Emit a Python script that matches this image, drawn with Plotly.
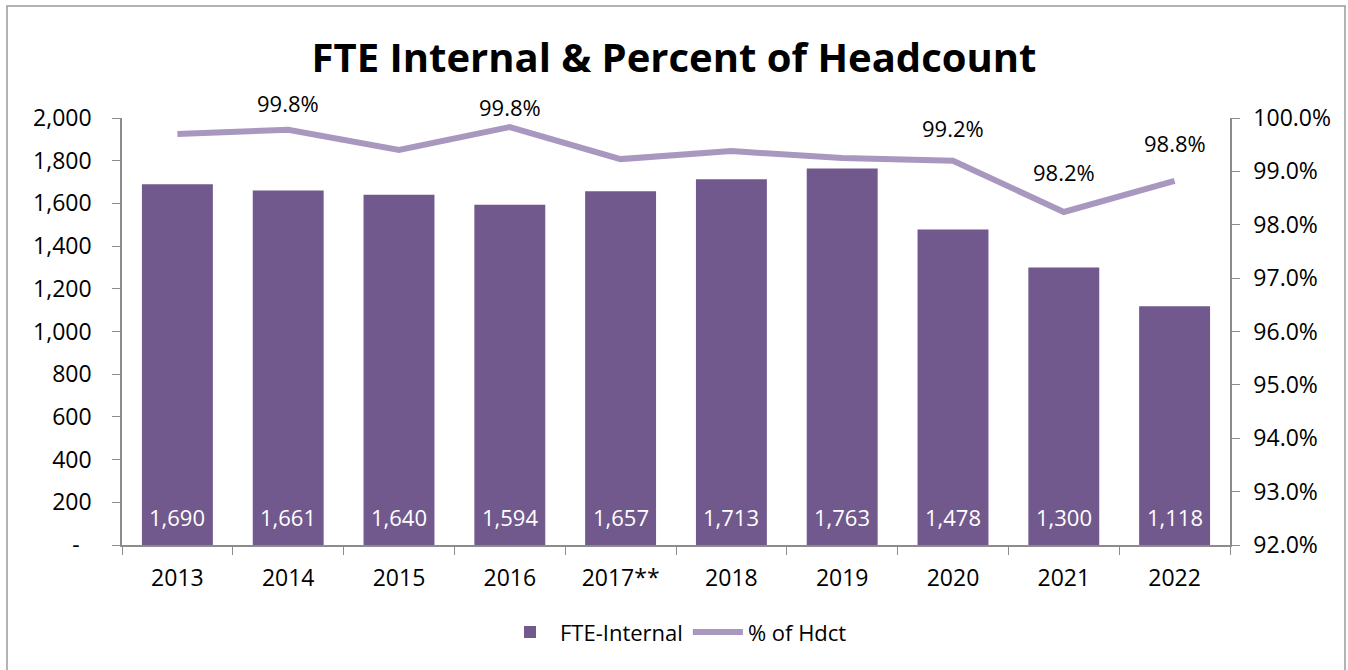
import plotly.graph_objects as go

years = ["2013", "2014", "2015", "2016", "2017**", "2018", "2019", "2020", "2021", "2022"]
fte_internal = [1690, 1661, 1640, 1594, 1657, 1713, 1763, 1478, 1300, 1118]
pct_hdct = [99.70, 99.78, 99.40, 99.83, 99.23, 99.38, 99.25, 99.20, 98.24, 98.82]
pct_labels = ["", "99.8%", "", "99.8%", "", "", "", "99.2%", "98.2%", "98.8%"]
label_shift = [0, 27, 0, 20, 0, 0, 0, 33, 40, 38]

left_tickvals = [0, 200, 400, 600, 800, 1000, 1200, 1400, 1600, 1800, 2000]
left_ticktext = ["-\u00a0\u00a0", "200", "400", "600", "800", "1,000", "1,200", "1,400", "1,600", "1,800", "2,000"]
right_tickvals = [92, 93, 94, 95, 96, 97, 98, 99, 100]
right_ticktext = [f"{v:.1f}%" for v in right_tickvals]

BAR = "#71598D"
LINE = "#A898BF"
FONT = "Open Sans"
AX = "#8C8C8C"

W, H = 1348, 670
L, R, T, B = 122, 118, 118, 125

fig = go.Figure()
fig.add_trace(go.Bar(
    x=years, y=fte_internal, name="FTE-Internal",
    marker=dict(color=BAR, line=dict(width=0)),
))
fig.add_trace(go.Scatter(
    x=years, y=pct_hdct, name="% of Hdct", yaxis="y2",
    mode="lines", line=dict(color=LINE, width=6),
))

# bar value labels, near the base of each bar
for i, v in enumerate(fte_internal):
    fig.add_annotation(x=i, y=0, xref="x", yref="y", text=f"{v:,}", showarrow=False,
                       yanchor="middle", yshift=28,
                       font=dict(size=22, color="white", family=FONT))

# line value labels
for i, (y, t, s) in enumerate(zip(pct_hdct, pct_labels, label_shift)):
    if t:
        fig.add_annotation(x=i, y=y, xref="x", yref="y2", text=t, showarrow=False,
                           yshift=s, font=dict(size=22, color="black", family=FONT))

pw = W - L - R
ph = H - T - B
fig.add_shape(type="rect", xref="paper", yref="paper",
              x0=(7 - L) / pw, x1=(1345 - L) / pw,
              y0=(H - B - 675) / ph, y1=(H - B - 6) / ph,
              line=dict(color="#9A9A9A", width=1.5))

fig.update_layout(
    width=W, height=H,
    margin=dict(l=L, r=R, t=T, b=B),
    paper_bgcolor="white", plot_bgcolor="white",
    font=dict(family=FONT, size=23, color="black"),
    title=dict(text="<b>FTE Internal & Percent of Headcount</b>", x=0.5, xanchor="center",
               y=1 - 58 / H, yanchor="middle", font=dict(size=40, family=FONT, color="black")),
    bargap=0.36,
    showlegend=True,
    legend=dict(orientation="h", x=0.5, xanchor="center", y=-0.155, yanchor="top",
                font=dict(size=22, family=FONT), traceorder="normal", itemwidth=50),
    xaxis=dict(type="category", range=[-0.5, len(years) - 0.5], showline=True, linecolor=AX,
               linewidth=1.5, ticks="outside", tickson="boundaries", ticklen=8, tickcolor=AX,
               showgrid=False, tickfont=dict(size=23), ticklabelstandoff=12),
    yaxis=dict(range=[0, 2000], tickmode="array", tickvals=left_tickvals, ticktext=left_ticktext,
               showline=True, linecolor=AX, linewidth=1.5, ticks="outside",
               ticklen=8, tickcolor=AX, showgrid=False, zeroline=False,
               tickfont=dict(size=23), ticklabelstandoff=16),
    yaxis2=dict(range=[92, 100], tickmode="array", tickvals=right_tickvals, ticktext=right_ticktext,
                overlaying="y", side="right", showline=True, linecolor=AX, linewidth=1.5,
                ticks="outside", ticklen=8, tickcolor=AX, showgrid=False, zeroline=False,
                tickfont=dict(size=23), ticklabelstandoff=9),
)

fig.write_html("out.html", config={"displayModeBar": False},
               post_script="document.body.style.margin='0';")
